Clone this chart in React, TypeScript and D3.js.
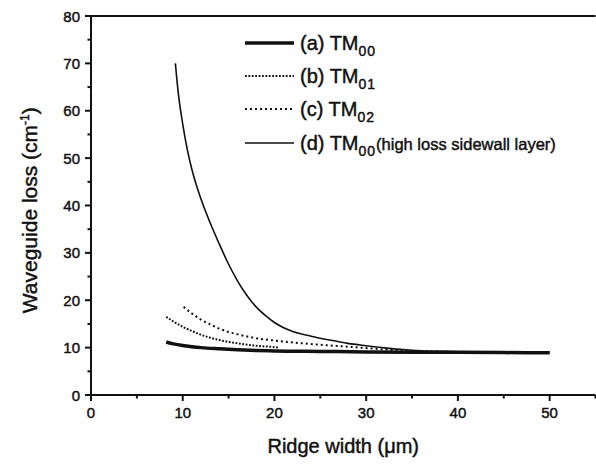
import React, { useEffect, useRef } from 'react';
import * as d3 from 'd3';

// values
const lossA_x = [8.2, 9, 10, 11, 12, 14, 16, 18, 20, 25, 30, 35, 40, 45, 50];
const lossA_y = [11.2, 10.8, 10.45, 10.2, 10.0, 9.75, 9.55, 9.4, 9.3, 9.2, 9.1, 9.05, 9.0, 8.95, 8.9];

const lossB_x = [8.2, 9, 10, 11, 12, 13, 14, 16, 18, 20, 20.5];
const lossB_y = [16.5, 15.5, 14.4, 13.5, 12.7, 12.1, 11.6, 10.9, 10.4, 10.1, 10.0];

const lossC_x = [10.1, 11, 12, 13, 14, 15, 16, 18, 20, 22, 25, 28, 30, 32, 35, 40, 45, 50];
const lossC_y = [18.6, 17.2, 15.9, 14.9, 14.0, 13.3, 12.8, 12.0, 11.5, 11.1, 10.6, 10.2, 9.9, 9.6, 9.3, 9.1, 9.0, 9.0];

const lossD_x = [9.2, 9.5, 10, 10.5, 11, 11.5, 12, 13, 14, 15, 16, 17, 18, 19, 20, 21, 22, 24, 26, 28, 30, 32, 34, 36, 38, 40, 45, 50];
const lossD_y = [70, 64, 57.2, 51.8, 47.6, 44.2, 41.3, 36.3, 31.8, 27.6, 24.0, 21.0, 18.6, 16.8, 15.3, 14.2, 13.4, 12.4, 11.6, 10.9, 10.4, 9.95, 9.6, 9.35, 9.2, 9.1, 9.0, 9.0];

const xTicks = [0, 10, 20, 30, 40, 50];
const yTicks = [0, 10, 20, 30, 40, 50, 60, 70, 80];

const legendItems = [
  { label: '(a) TM', sub: '00', extra: '', width: 3.5, dash: null },
  { label: '(b) TM', sub: '01', extra: '', width: 2, dash: '1.8,1.6' },
  { label: '(c) TM', sub: '02', extra: '', width: 2, dash: '2,3' },
  { label: '(d) TM', sub: '00', extra: '(high loss sidewall layer)', width: 1.6, dash: null },
];

const FONT = 'Liberation Sans, Arial, Helvetica, sans-serif';

export default function App() {
  const ref = useRef<HTMLDivElement>(null);

  useEffect(() => {
    const container = ref.current;
    if (!container) return;
    d3.select(container).selectAll('*').remove();

    const width = 596, height = 465;
    const svg = d3.select(container).append('svg').attr('width', width).attr('height', height)
      .style('font-family', FONT).style('display', 'block');
    svg.append('rect').attr('width', width).attr('height', height).attr('fill', '#fff');

    const x = d3.scaleLinear().domain([0, 55]).range([91, 595.5]);
    const y = d3.scaleLinear().domain([0, 80]).range([395, 16]);

    const ink = '#111';
    // slight outline so the text reads as heavy as the scanned original
    const heavy = (sel: any) => sel.attr('fill', ink).attr('stroke', ink).attr('stroke-width', 0.45);

    // frame: left axis, bottom axis, top border
    svg.append('line').attr('x1', x(0)).attr('x2', x(55)).attr('y1', y(0)).attr('y2', y(0)).attr('stroke', ink).attr('stroke-width', 2);
    svg.append('line').attr('x1', x(0)).attr('x2', x(0)).attr('y1', y(0)).attr('y2', y(80)).attr('stroke', ink).attr('stroke-width', 2);
    svg.append('line').attr('x1', x(0)).attr('x2', x(55)).attr('y1', y(80)).attr('y2', y(80)).attr('stroke', ink).attr('stroke-width', 2);

    // ticks
    const xMinor = d3.range(5, 56, 10);
    const yMinor = d3.range(5, 80, 10);
    xTicks.forEach(v => {
      svg.append('line').attr('x1', x(v)).attr('x2', x(v)).attr('y1', y(0)).attr('y2', y(0) + 6).attr('stroke', ink).attr('stroke-width', 2);
      heavy(svg.append('text').attr('x', x(v)).attr('y', 418).attr('text-anchor', 'middle').attr('font-size', 15).text(String(v)));
    });
    xMinor.forEach(v => {
      svg.append('line').attr('x1', x(v)).attr('x2', x(v)).attr('y1', y(0)).attr('y2', y(0) + 3.5).attr('stroke', ink).attr('stroke-width', 2);
    });
    yTicks.forEach(v => {
      svg.append('line').attr('x1', x(0) - 6).attr('x2', x(0)).attr('y1', y(v)).attr('y2', y(v)).attr('stroke', ink).attr('stroke-width', 2);
      heavy(svg.append('text').attr('x', 80).attr('y', y(v) + 5.5).attr('text-anchor', 'end').attr('font-size', 15).text(String(v)));
    });
    yMinor.forEach(v => {
      svg.append('line').attr('x1', x(0) - 3.5).attr('x2', x(0)).attr('y1', y(v)).attr('y2', y(v)).attr('stroke', ink).attr('stroke-width', 2);
    });

    // curves
    const line = d3.line<[number, number]>().x(d => x(d[0])).y(d => y(d[1])).curve(d3.curveMonotoneX);
    const series = [
      { xs: lossA_x, ys: lossA_y, item: legendItems[0] },
      { xs: lossB_x, ys: lossB_y, item: legendItems[1] },
      { xs: lossC_x, ys: lossC_y, item: legendItems[2] },
      { xs: lossD_x, ys: lossD_y, item: legendItems[3] },
    ];
    series.forEach(s => {
      const pts = s.xs.map((v, i) => [v, s.ys[i]] as [number, number]);
      const p = svg.append('path').datum(pts).attr('fill', 'none').attr('stroke', ink)
        .attr('stroke-width', s.item.width).attr('d', line);
      if (s.item.dash) p.attr('stroke-dasharray', s.item.dash);
    });

    // legend
    const legRows = [43, 76, 109, 143];
    legendItems.forEach((it, i) => {
      const ly = legRows[i];
      const l = svg.append('line').attr('x1', 245).attr('x2', 294).attr('y1', ly).attr('y2', ly)
        .attr('stroke', ink).attr('stroke-width', it.width);
      if (it.dash) l.attr('stroke-dasharray', it.dash);
      const t = heavy(svg.append('text').attr('x', 300).attr('y', ly + 7).attr('font-size', 20));
      t.append('tspan').text(it.label);
      t.append('tspan').attr('font-size', 14).attr('dy', 6).attr('letter-spacing', 1).text(it.sub);
      if (it.extra) t.append('tspan').attr('font-size', 16.5).attr('dy', -6).text(it.extra);
    });

    // axis titles
    heavy(svg.append('text').attr('x', x(27.5)).attr('y', 453).attr('text-anchor', 'middle').attr('font-size', 20))
      .text('Ridge width (\u03bcm)');
    const yt = heavy(svg.append('text').attr('transform', `translate(37,${y(39)}) rotate(-90)`).attr('text-anchor', 'middle')
      .attr('font-size', 21));
    yt.append('tspan').text('Waveguide loss (cm');
    yt.append('tspan').attr('font-size', 12).attr('dy', -8).text('-1');
    yt.append('tspan').attr('dy', 8).text(')');
  }, []);

  return <div ref={ref} style={{ position: 'absolute', left: 0, top: 0, width: 596, height: 465 }} />;
}
